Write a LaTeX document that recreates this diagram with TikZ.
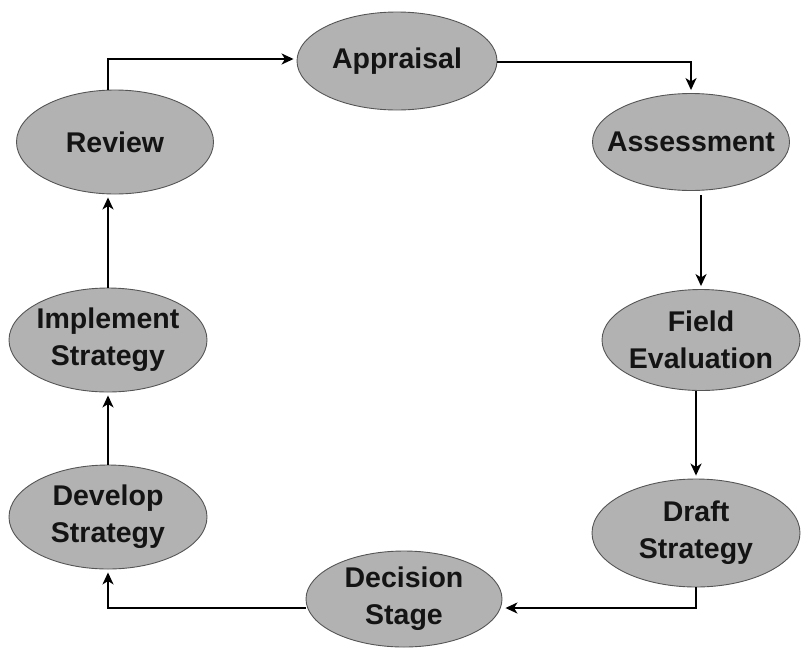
\documentclass[tikz,border=0pt]{standalone}
\usepackage{fontspec}
\setmainfont{Liberation Sans}
\usetikzlibrary{shapes.geometric,arrows.meta}
\definecolor{ellfill}{RGB}{178,178,178}
\definecolor{elldraw}{RGB}{85,85,85}
\definecolor{txt}{RGB}{20,20,20}
\tikzset{
  stage/.style={ellipse, draw=elldraw, line width=0.9pt, fill=ellfill, inner sep=-40pt,
    text=txt, align=center, font=\fontsize{28.5}{37}\selectfont\bfseries},
  arr/.style={-{Stealth[length=12pt,width=11pt,inset=3.5pt]}, line width=2pt, black, shorten >=3pt}
}
\begin{document}
\begin{tikzpicture}[x=1pt,y=-1pt]
\useasboundingbox (0,0) rectangle (802,648);
\node[stage, minimum width=200pt, minimum height=98pt] (app) at (397,61) {Appraisal};
\node[stage, minimum width=197pt, minimum height=104pt] (rev) at (115,142) {Review};
\node[stage, minimum width=197pt, minimum height=97pt] (ass) at (691,142) {Assessment};
\node[stage, minimum width=198pt, minimum height=101pt] (fld) at (701,340) {Field\\Evaluation};
\node[stage, minimum width=198pt, minimum height=104pt] (imp) at (108,340) {Implement\\Strategy};
\node[stage, minimum width=198pt, minimum height=104pt] (dev) at (108,517) {Develop\\Strategy};
\node[stage, minimum width=208pt, minimum height=108pt] (dra) at (696,533) {Draft\\Strategy};
\node[stage, minimum width=196pt, minimum height=96pt] (dec) at (404,599) {Decision\\Stage};

\draw[arr] (imp.north |- rev.north) |- ([yshift=2pt]app.west);
\draw[arr] ([yshift=-1pt]app.east) -| (ass.north);
\draw[arr] (fld.north |- ass.south) ++(0,4) -- (fld.north);
\draw[arr] (fld.south -| dra.north) -- (dra.north);
\draw[arr] (dra.south) |- ([yshift=-9pt]dec.east);
\draw[arr] ([yshift=-9pt]dec.west) -| (dev.south);
\draw[arr] (dev.north) -- (imp.south);
\draw[arr] (imp.north) -- (imp.north |- rev.south);
\end{tikzpicture}
\end{document}
